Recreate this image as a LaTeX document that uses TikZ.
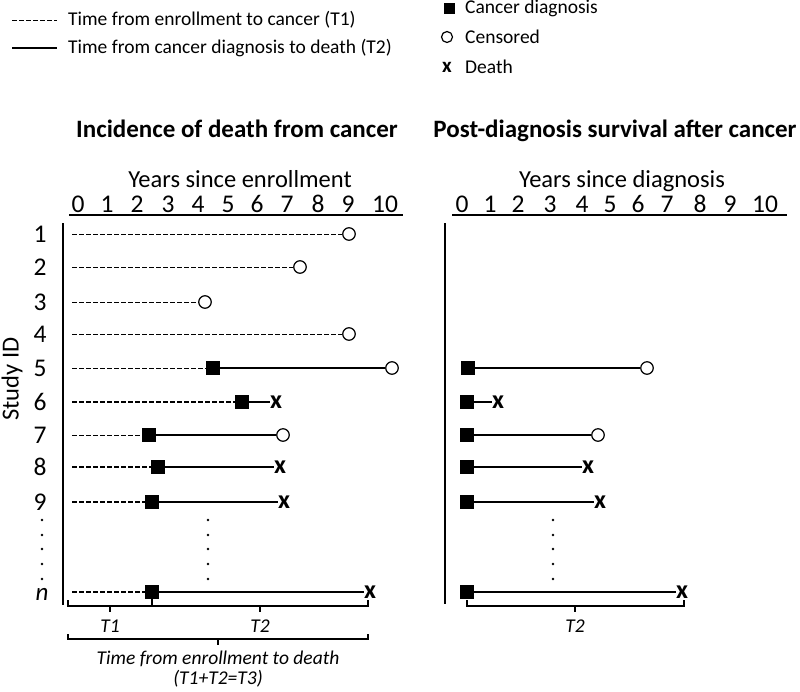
\documentclass[tikz,border=0pt]{standalone}
\usepackage{fontspec}
\setmainfont{Carlito}
\begin{document}
\begin{tikzpicture}[x=1pt,y=-1pt,
  diag/.style={rectangle,fill=black,minimum size=14pt,inner sep=0pt},
  cens/.style={circle,draw,line width=1.2pt,fill=white,minimum size=12.5pt,inner sep=0pt},
  death/.style={font=\fontsize{26}{26}\selectfont\bfseries,inner sep=0pt},
  tone/.style={line width=1pt,dash pattern=on 4.5pt off 2.5pt},
  ttwo/.style={line width=1.3pt},
  axisline/.style={line width=1.6pt},
  brk/.style={line width=1.1pt},
  lbl/.style={font=\fontsize{24.5}{26}\selectfont,inner sep=0pt,anchor=base},
  num/.style={font=\fontsize{25.5}{26}\selectfont,inner sep=0pt,anchor=base},
  legtxt/.style={font=\fontsize{19.5}{22}\selectfont,inner sep=0pt,anchor=west},
  ttl/.style={font=\fontsize{25}{28}\selectfont\bfseries,inner sep=0pt,anchor=base},
  itl/.style={font=\fontsize{19.5}{22}\selectfont\itshape,inner sep=0pt,anchor=base},
  dotmark/.style={circle,fill=black,minimum size=2.6pt,inner sep=0pt}
]
\useasboundingbox (0,0) rectangle (800,691);

% ---------- legend ----------
\coordinate (la1) at (12,20); \coordinate (lb1) at (57,20);
\draw[tone] (la1) -- (lb1);
\node[legtxt] (lt1) at (68,20) {Time from enrollment to cancer (T1)};
\coordinate (la2) at (12,48); \coordinate (lb2) at (57,48);
\draw[line width=1.6pt] (la2) -- (lb2);
\node[legtxt] (lt2) at (68,48) {Time from cancer diagnosis to death (T2)};

\node[rectangle,fill=black,minimum size=11pt,inner sep=0pt] (lsq) at (449,8) {};
\node[legtxt] (lt3) at (465,8) {Cancer diagnosis};
\node[cens,minimum size=11pt] (lci) at (447,37) {};
\node[legtxt] (lt4) at (465,37) {Censored};
\node[death,font=\fontsize{21}{21}\selectfont\bfseries] (lx) at (447,67) {x};
\node[legtxt] (lt5) at (465,67) {Death};

% ---------- titles ----------
\node[ttl] (t1) at (237,137) {Incidence of death from cancer};
\node[ttl] (t2) at (615,137) {Post-diagnosis survival after cancer};

% ---------- left axis ----------
\node[lbl] (ax1) at (240,187) {Years since enrollment};
\foreach \v/\xx in {0/78,1/107,2/137,3/168,4/198,5/228,6/257,7/287,8/318,9/348,10/385}
  \node[num] (lx\v) at (\xx,212) {\v};
\coordinate (lu1) at (69,215); \coordinate (lu2) at (403,215);
\draw[axisline] (lu1) -- (lu2);
\coordinate (lv1) at (63,223); \coordinate (lv2) at (63,605);
\draw[axisline] (lv1) -- (lv2);

\node[lbl,anchor=center,rotate=90] (sid) at (12,379) {Study ID};

\foreach \v/\yy in {1/234,2/267,3/302,4/334,5/368,6/402,7/435,8/467,9/502}
  \node[num] (id\v) at (40,\yy+8) {\v};
\node[num,font=\fontsize{25}{26}\selectfont\itshape] (idn) at (42,600) {n};

\foreach \yy [count=\i] in {520,535,549,564,579}{
  \node[dotmark] (ld\i) at (42,\yy) {};
  \node[dotmark] (md\i) at (208,\yy) {};
  \node[dotmark] (rd\i) at (553,\yy) {};
}

% rows 1-4 (censored, no cancer)
\foreach \r/\yy/\ex in {1/234/349,2/267/300,3/302/205,4/334/349}{
  \coordinate (r\r o) at (72,\yy);
  \node[cens] (r\r e) at (\ex,\yy) {};
  \draw[tone] (r\r o) -- (r\r e);
}

% row 5
\coordinate (r5o) at (72,368);
\node[diag] (r5s) at (213,368) {};
\node[cens] (r5e) at (392,368) {};
\draw[tone] (r5o) -- (r5s); \draw[ttwo] (r5s) -- (r5e);
% row 6
\coordinate (r6o) at (72,402);
\node[diag] (r6s) at (242,402) {};
\node[death] (r6e) at (276,402) {x};
\draw[tone,line width=1.4pt] (r6o) -- (r6s); \draw[ttwo,line width=1.8pt] (r6s) -- (r6e);
% row 7
\coordinate (r7o) at (72,435);
\node[diag] (r7s) at (149,435) {};
\node[cens] (r7e) at (283,435) {};
\draw[tone] (r7o) -- (r7s); \draw[ttwo] (r7s) -- (r7e);
% row 8
\coordinate (r8o) at (72,467);
\node[diag] (r8s) at (158,467) {};
\node[death] (r8e) at (280,467) {x};
\draw[tone,line width=1.3pt] (r8o) -- (r8s); \draw[ttwo,line width=1.5pt] (r8s) -- (r8e);
% row 9
\coordinate (r9o) at (72,502);
\node[diag] (r9s) at (152,502) {};
\node[death] (r9e) at (284,502) {x};
\draw[tone,line width=1.3pt] (r9o) -- (r9s); \draw[ttwo,line width=1.5pt] (r9s) -- (r9e);
% row n
\coordinate (rno) at (72,592);
\node[diag] (rns) at (152,592) {};
\node[death] (rne) at (370,592) {x};
\draw[tone,line width=1.4pt] (rno) -- (rns); \draw[ttwo,line width=1.6pt] (rns) -- (rne);

% left brackets
\coordinate (b1a) at (68,600); \coordinate (b1b) at (68,606);
\coordinate (b1c) at (368,606); \coordinate (b1d) at (368,600);
\draw[brk] (b1a) -- (b1b) -- (b1c) -- (b1d);
\coordinate (b1s) at (152,606);
\draw[brk] (rns.south) -- (b1s);
\coordinate (b1t1) at (110,606); \coordinate (b1t1e) at (110,612);
\coordinate (b1t2) at (260,606); \coordinate (b1t2e) at (260,612);
\draw[brk] (b1t1) -- (b1t1e); \draw[brk] (b1t2) -- (b1t2e);
\node[itl] (lT1) at (110,632) {T1};
\node[itl] (lT2) at (260,632) {T2};
\coordinate (b2a) at (68,634); \coordinate (b2b) at (68,639);
\coordinate (b2c) at (368,639); \coordinate (b2d) at (368,634);
\draw[brk] (b2a) -- (b2b) -- (b2c) -- (b2d);
\coordinate (b2m) at (218,639); \coordinate (b2me) at (218,645);
\draw[brk] (b2m) -- (b2me);
\node[itl] (tt1) at (218,664) {Time from enrollment to death};
\node[itl] (tt2) at (218,684) {(T1+T2=T3)};

% ---------- right axis ----------
\node[lbl] (ax2) at (622,187) {Years since diagnosis};
\foreach \v/\xx in {0/462,1/490,2/518,3/550,4/582,5/610,6/638,7/667,8/700,9/730,10/765}
  \node[num] (rx\v) at (\xx,212) {\v};
\coordinate (ru1) at (452,215); \coordinate (ru2) at (787,215);
\draw[axisline] (ru1) -- (ru2);
\coordinate (rv1) at (445,223); \coordinate (rv2) at (445,604);
\draw[axisline] (rv1) -- (rv2);

\node[diag] (q5s) at (468,368) {}; \node[cens] (q5e) at (647,368) {};
\draw[ttwo] (q5s) -- (q5e);
\node[diag] (q6s) at (467,402) {}; \node[death] (q6e) at (498,402) {x};
\draw[ttwo] (q6s) -- (q6e);
\node[diag] (q7s) at (467,435) {}; \node[cens] (q7e) at (598,435) {};
\draw[ttwo] (q7s) -- (q7e);
\node[diag] (q8s) at (467,467) {}; \node[death] (q8e) at (588,467) {x};
\draw[ttwo,line width=1.5pt] (q8s) -- (q8e);
\node[diag] (q9s) at (467,502) {}; \node[death] (q9e) at (600,502) {x};
\draw[ttwo] (q9s) -- (q9e);
\node[diag] (qns) at (467,592) {}; \node[death] (qne) at (682,592) {x};
\draw[ttwo] (qns) -- (qne);

% right bracket
\coordinate (b3a) at (467,600); \coordinate (b3b) at (467,606);
\coordinate (b3c) at (684,606); \coordinate (b3d) at (684,600);
\draw[brk] (b3a) -- (b3b) -- (b3c) -- (b3d);
\coordinate (b3m) at (575,606); \coordinate (b3me) at (575,612);
\draw[brk] (b3m) -- (b3me);
\node[itl] (rT2) at (575,632) {T2};
\end{tikzpicture}
\end{document}
